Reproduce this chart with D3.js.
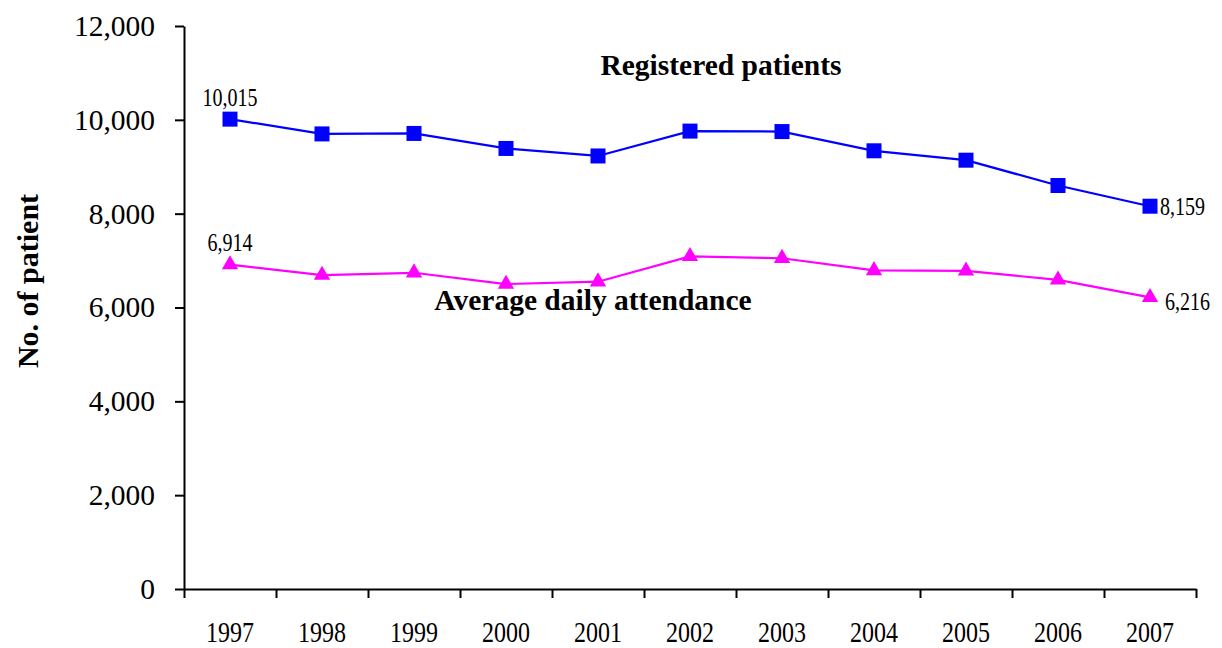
<!DOCTYPE html>
<html><head><meta charset="utf-8">
<script src="https://cdn.jsdelivr.net/npm/d3@7"></script>
<style>body{margin:0;background:#fff}</style>
</head><body>
<svg id="c" width="1222" height="648"></svg>
<script>
const years = ["1997","1998","1999","2000","2001","2002","2003","2004","2005","2006","2007"];
const registered = [10015, 9700, 9710, 9390, 9230, 9760, 9750, 9340, 9140, 8600, 8159];
const attendance = [6914, 6690, 6740, 6500, 6550, 7090, 7050, 6790, 6780, 6590, 6216];
const yTicks = [0, 2000, 4000, 6000, 8000, 10000, 12000];

const svg = d3.select("#c");
const serif = "'Liberation Serif','Times New Roman',serif";
const x = d3.scaleBand().domain(years).range([184, 1196]).padding(0);
const y = d3.scaleLinear().domain([0, 12000]).range([589, 26]);
const cx = d => x(d) + x.bandwidth() / 2;

// Y axis
const ya = svg.append("g").attr("transform", "translate(184,0)")
  .call(d3.axisLeft(y).tickValues(yTicks).tickFormat(d3.format(",")).tickSize(9).tickPadding(20).tickSizeOuter(0));
ya.select(".domain").attr("stroke", "#000").attr("stroke-width", 2);
ya.selectAll(".tick line").attr("stroke", "#000").attr("stroke-width", 2);
ya.selectAll(".tick text").attr("font-family", serif).attr("font-size", 29.5).attr("fill", "#000");

// X axis: tick marks at band boundaries
const xi = d3.scaleLinear().domain([0, years.length]).range([184, 1196]);
const xa = svg.append("g").attr("transform", "translate(0,589)")
  .call(d3.axisBottom(xi).tickValues(d3.range(years.length + 1)).tickFormat("").tickSize(9).tickSizeOuter(0));
xa.select(".domain").attr("stroke", "#000").attr("stroke-width", 2);
xa.selectAll(".tick line").attr("stroke", "#000").attr("stroke-width", 2);
// X labels
svg.append("g").selectAll("text").data(years).join("text")
  .attr("transform", d => `translate(${cx(d)},642) scale(0.8,1)`)
  .attr("text-anchor", "middle").attr("font-family", serif).attr("font-size", 30).text(d => d);

// Y axis title
svg.append("text").attr("transform", "translate(38,281) rotate(-90)")
  .attr("text-anchor", "middle").attr("font-family", serif).attr("font-weight", "bold")
  .attr("font-size", 30).text("No. of patient");

// Lines
const line = d3.line().x((d, i) => cx(years[i])).y(d => y(d));
svg.append("path").datum(registered).attr("d", line).attr("fill", "none").attr("stroke", "#0000FF").attr("stroke-width", 2.2);
svg.append("path").datum(attendance).attr("d", line).attr("fill", "none").attr("stroke", "#FF00FF").attr("stroke-width", 2.2);

// Markers
svg.append("g").selectAll("rect").data(registered).join("rect")
  .attr("x", (d, i) => cx(years[i]) - 7.5).attr("y", d => y(d) - 7.5)
  .attr("width", 15).attr("height", 15).attr("fill", "#0000FF");
const tri = d3.symbol().type(d3.symbolTriangle).size(115);
svg.append("g").selectAll("path").data(attendance).join("path")
  .attr("transform", (d, i) => `translate(${cx(years[i])},${y(d)})`)
  .attr("d", tri).attr("fill", "#FF00FF");

// Data labels
const fmt = d3.format(",");
const lab = (txt, xx, yy, anchor) => svg.append("text")
  .attr("transform", `translate(${xx},${yy}) scale(0.8,1)`)
  .attr("text-anchor", anchor).attr("font-family", serif).attr("font-size", 25).text(txt);
const n = years.length - 1;
lab(fmt(registered[0]), cx(years[0]), y(registered[0]) - 13, "middle");
lab(fmt(registered[n]), cx(years[n]) + 10, y(registered[n]) + 9, "start");
lab(fmt(attendance[0]), cx(years[0]), y(attendance[0]) - 14, "middle");
lab(fmt(attendance[n]), cx(years[n]) + 15, y(attendance[n]) + 13, "start");

// Series titles
svg.append("text").attr("x", 721).attr("y", 75).attr("text-anchor", "middle")
  .attr("font-family", serif).attr("font-weight", "bold").attr("font-size", 29.5).text("Registered patients");
svg.append("text").attr("x", 593).attr("y", 310).attr("text-anchor", "middle")
  .attr("font-family", serif).attr("font-weight", "bold").attr("font-size", 29.5).text("Average daily attendance");
</script>
</body></html>
